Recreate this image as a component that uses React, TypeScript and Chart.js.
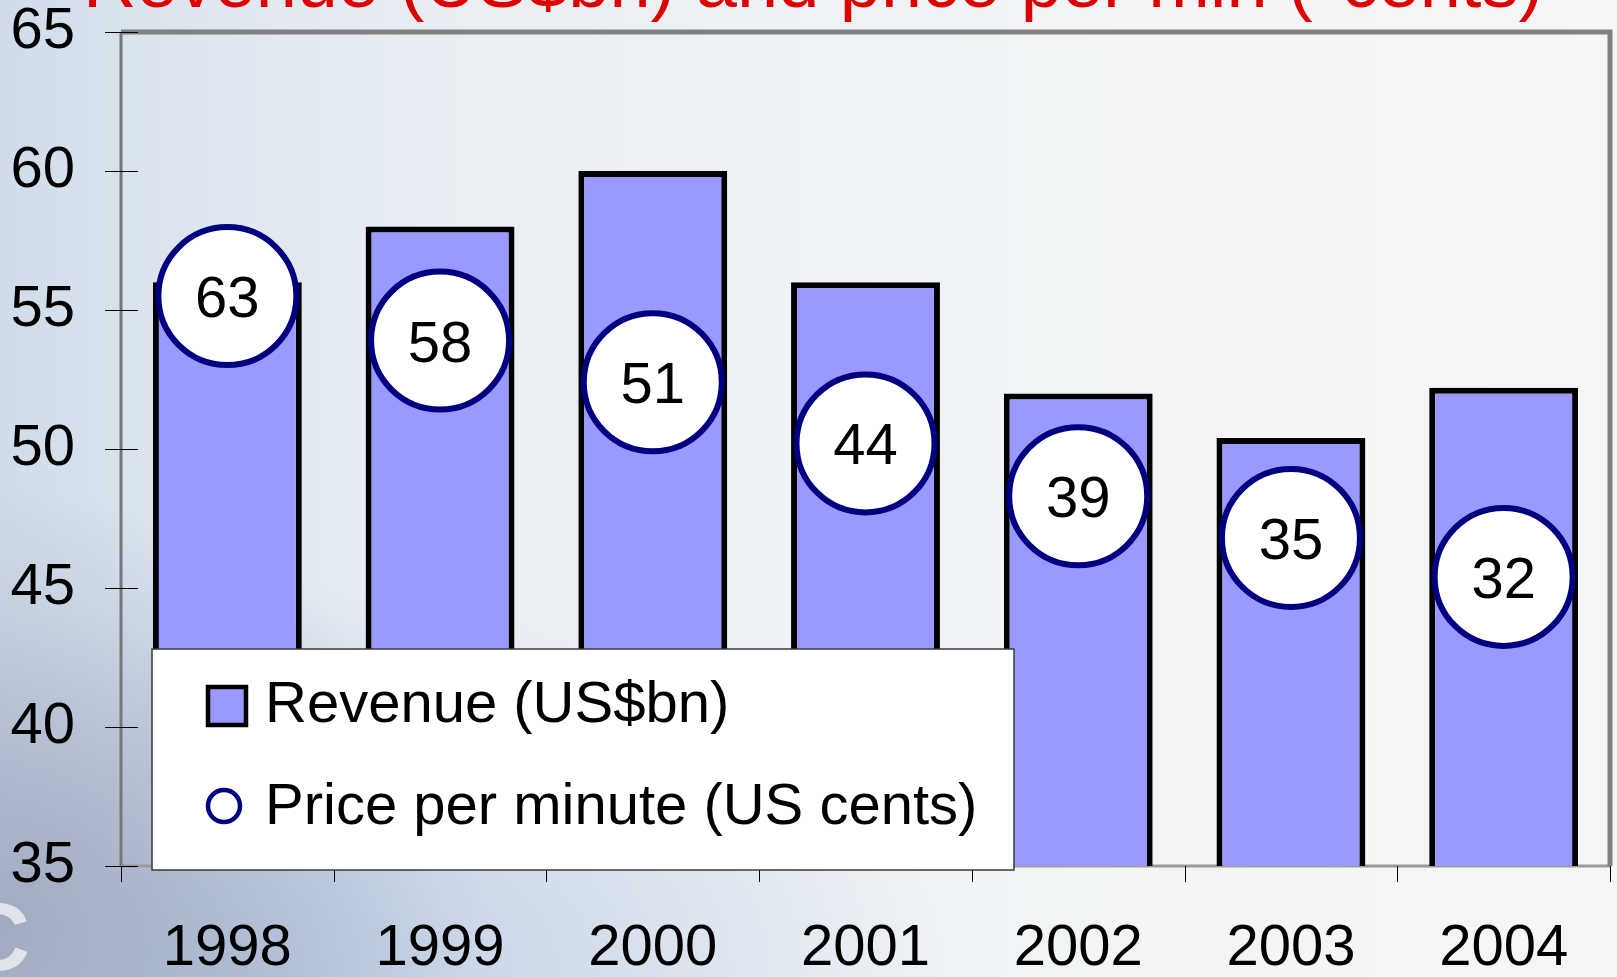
import React, { useEffect, useRef } from 'react';
import { Chart, registerables } from 'chart.js';

Chart.register(...registerables);

// ---- data ----
const years = ['1998', '1999', '2000', '2001', '2002', '2003', '2004'];
const revenueBn = [56, 58, 60, 56, 52, 50.4, 52.2];
const priceCents = [63, 58, 51, 44, 39, 35, 32];
// vertical level (on the revenue axis) at which each price bubble sits in the original
const priceBubbleLevel = [55.5, 53.9, 52.4, 50.2, 48.3, 46.8, 45.4];
const yTicks = [35, 40, 45, 50, 55, 60, 65];
const titleText = 'Revenue (US$bn) and price per min (*cents)';
const seriesLabels = ['Revenue (US$bn)', 'Price per minute (US cents)'];

const FONT = '"Liberation Sans", Arial, Helvetica, sans-serif';
const BAR_FILL = '#9999ff';
const NAVY = '#000080';

export default function App() {
  const ref = useRef<HTMLCanvasElement>(null);

  useEffect(() => {
    const canvas = ref.current as HTMLCanvasElement;

    const decor = {
      id: 'decor',
      beforeDatasetsDraw(chart: any) {
        const { ctx, chartArea: a, scales } = chart;
        ctx.save();
        // bottom edge
        ctx.strokeStyle = '#9a9a9a';
        ctx.lineWidth = 3;
        ctx.beginPath();
        ctx.moveTo(a.left, a.bottom);
        ctx.lineTo(a.right, a.bottom);
        ctx.stroke();
        // left axis
        ctx.strokeStyle = '#777777';
        ctx.lineWidth = 3;
        ctx.beginPath();
        ctx.moveTo(a.left, a.top);
        ctx.lineTo(a.left, a.bottom);
        ctx.stroke();
        // top & right frame
        ctx.strokeStyle = '#808080';
        ctx.lineWidth = 5;
        ctx.beginPath();
        ctx.moveTo(a.left, a.top);
        ctx.lineTo(a.right, a.top);
        ctx.lineTo(a.right, a.bottom);
        ctx.stroke();
        // y tick marks crossing the axis
        ctx.strokeStyle = '#000';
        ctx.lineWidth = 1;
        for (const v of yTicks) {
          const y = Math.round(scales.y.getPixelForValue(v)) + 0.5;
          ctx.beginPath();
          ctx.moveTo(a.left - 16, y);
          ctx.lineTo(a.left + 17, y);
          ctx.stroke();
        }
        // x tick marks at category boundaries, below the axis
        const n = years.length;
        for (let i = 0; i <= n; i++) {
          const x = Math.round(a.left + (i * (a.right - a.left)) / n) + 0.5;
          ctx.beginPath();
          ctx.moveTo(x, a.bottom);
          ctx.lineTo(x, a.bottom + 16);
          ctx.stroke();
        }
        ctx.restore();
      },
      afterDatasetsDraw(chart: any) {
        const { ctx } = chart;
        ctx.save();
        // bubble labels
        const meta = chart.getDatasetMeta(1);
        ctx.font = `58px ${FONT}`;
        ctx.fillStyle = '#000';
        ctx.textAlign = 'center';
        ctx.textBaseline = 'alphabetic';
        meta.data.forEach((pt: any, i: number) => {
          ctx.fillText(String(priceCents[i]), pt.x, pt.y + 21);
        });

        // legend box
        const lx = 152, ly = 649, lw = 862, lh = 221;
        ctx.fillStyle = '#ffffff';
        ctx.fillRect(lx, ly, lw, lh);
        ctx.strokeStyle = '#3a3a3a';
        ctx.lineWidth = 1.5;
        ctx.strokeRect(lx, ly, lw, lh);

        const ds = chart.data.datasets;
        // item 1: square
        ctx.fillStyle = BAR_FILL;
        ctx.fillRect(208, 687, 38, 38);
        ctx.strokeStyle = '#000';
        ctx.lineWidth = 4.5;
        ctx.strokeRect(208, 687, 38, 38);
        ctx.fillStyle = '#000';
        ctx.textAlign = 'left';
        ctx.textBaseline = 'alphabetic';
        ctx.font = `58px ${FONT}`;
        ctx.fillText(ds[0].label, 265, 722);
        // item 2: circle
        ctx.beginPath();
        ctx.arc(224, 806, 16, 0, Math.PI * 2);
        ctx.fillStyle = '#fff';
        ctx.fill();
        ctx.strokeStyle = NAVY;
        ctx.lineWidth = 4.5;
        ctx.stroke();
        ctx.fillStyle = '#000';
        ctx.fillText(ds[1].label, 265, 824);

        // title (cut off at the top of the picture)
        ctx.font = `74px ${FONT}`;
        ctx.fillStyle = '#dd0000';
        ctx.textAlign = 'center';
        ctx.fillText(titleText, 813, 7);

        // faint logo letter at the bottom-left corner
        ctx.font = `bold 96px ${FONT}`;
        ctx.fillStyle = 'rgba(232,234,238,0.9)';
        ctx.textAlign = 'right';
        ctx.fillText('C', 30, 970);
        ctx.restore();
      },
    };

    const chart = new Chart(canvas, {
      type: 'bar',
      data: {
        labels: years,
        datasets: [
          {
            type: 'bar',
            label: seriesLabels[0],
            data: revenueBn,
            backgroundColor: BAR_FILL,
            borderColor: '#000',
            borderWidth: 6,
            borderSkipped: false,
            categoryPercentage: 1,
            barPercentage: 0.7,
            order: 2,
          },
          {
            type: 'line',
            label: seriesLabels[1],
            data: priceBubbleLevel,
            showLine: false,
            pointRadius: 69,
            pointHoverRadius: 69,
            pointBorderWidth: 6,
            pointBackgroundColor: '#ffffff',
            pointBorderColor: NAVY,
            borderColor: NAVY,
            borderWidth: 6,
            backgroundColor: '#ffffff',
            clip: false,
            order: 1,
          } as any,
        ],
      },
      options: {
        responsive: false,
        animation: false,
        devicePixelRatio: 1,
        layout: { autoPadding: false, padding: { top: 32, right: 7, left: 0, bottom: 0 } },
        plugins: {
          legend: { display: false },
          title: { display: false },
          tooltip: { enabled: false },
        },
        scales: {
          x: {
            grid: {
              display: true,
              drawOnChartArea: false,
              drawTicks: true,
              tickLength: 48,
              color: 'rgba(0,0,0,0)',
              lineWidth: 1,
              offset: true,
            },
            border: { display: false },
            ticks: {
              font: { family: FONT, size: 58, lineHeight: 1.2 },
              color: '#000',
              padding: 0,
              maxRotation: 0,
              autoSkip: false,
            },
            afterFit: (s: any) => {
              s.height = 111;
            },
          },
          y: {
            min: 35,
            max: 65,
            grid: {
              display: true,
              drawOnChartArea: false,
              drawTicks: true,
              tickLength: 46,
              color: 'rgba(0,0,0,0)',
            },
            border: { display: false },
            ticks: {
              font: { family: FONT, size: 58, lineHeight: 1 },
              color: '#000',
              padding: 0,
            },
            afterBuildTicks: (s: any) => {
              s.ticks = yTicks.map((v) => ({ value: v }));
            },
            afterFit: (s: any) => {
              s.width = 121;
            },
          },
        },
      },
      plugins: [decor],
    } as any);

    return () => chart.destroy();
  }, []);

  return (
    <div
      style={{
        position: 'fixed',
        left: 0,
        top: 0,
        width: 1617,
        height: 977,
        overflow: 'hidden',
        background:
          'radial-gradient(ellipse 30% 45% at 0% 95%, rgba(150,158,180,0.75) 0%, rgba(150,158,180,0) 100%),' +
          'radial-gradient(ellipse 45% 40% at 15% 100%, rgba(180,198,225,0.8) 0%, rgba(180,198,225,0) 100%),' +
          'linear-gradient(to right, #d0dcea 0%, #dce5ef 10%, #e9eef3 28%, #f0f3f5 55%, #f6f6f6 100%)',
      }}
    >
      <canvas ref={ref} width={1617} height={977} style={{ display: 'block', width: 1617, height: 977 }} />
    </div>
  );
}
